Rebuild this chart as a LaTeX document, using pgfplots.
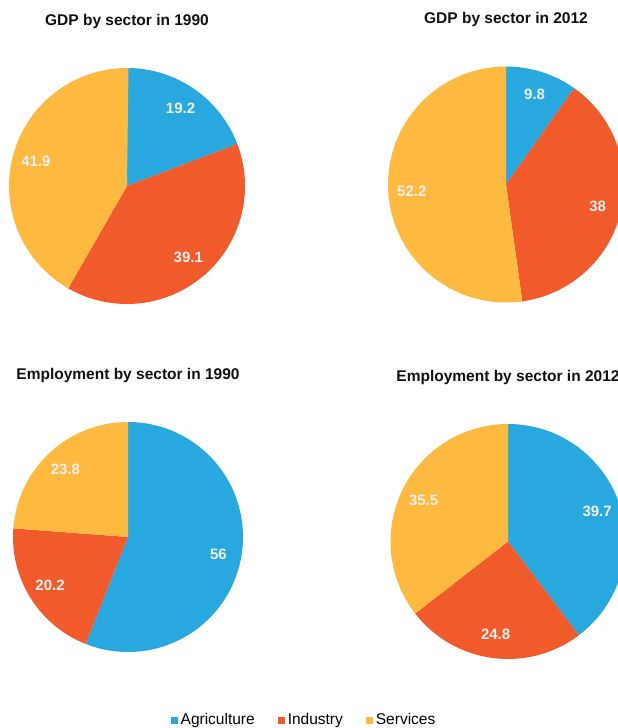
\documentclass[border=0pt]{standalone}
\usepackage{pgfplots}
\usepackage{pgfplotstable}
\pgfplotsset{compat=1.18}
\usepackage{fontspec}
\setmainfont{Liberation Sans}
\definecolor{agri}{HTML}{29A8E0}
\definecolor{indu}{HTML}{F15A2B}
\definecolor{serv}{HTML}{FDB940}
\definecolor{titlecol}{HTML}{111111}
\newcommand\titlefont{\fontsize{15.5}{18}\selectfont\bfseries}
\newcommand\labelfont{\fontsize{15}{18}\selectfont\bfseries}
\newcommand\legendfont{\fontsize{15.5}{18}\selectfont}

\pgfplotstableread{
sector value
Agriculture 19.2
Industry 39.1
Services 41.9
}\gdpA
\pgfplotstableread{
sector value
Agriculture 9.8
Industry 38
Services 52.2
}\gdpB
\pgfplotstableread{
sector value
Agriculture 56
Industry 20.2
Services 23.8
}\empA
\pgfplotstableread{
sector value
Agriculture 39.7
Industry 24.8
Services 35.5
}\empB

% #1 table, #2 canvas radius (pt)
\newcommand\pieslices[2]{%
  \gdef\startang{90}%
  \foreach \i/\col in {0/agri,1/indu,2/serv}{%
    \pgfplotstablegetelem{\i}{value}\of{#1}%
    \let\v\pgfplotsretval
    \pgfmathsetmacro\endang{\startang-3.6*\v}%
    \pgfmathsetmacro\cx{cos(\startang)}%
    \pgfmathsetmacro\cy{sin(\startang)}%
    \edef\temp{\noexpand\fill[\col] (axis cs:0,0) -- (axis cs:\cx,\cy) arc[start angle=\startang, end angle=\endang, radius=#2pt] -- cycle;}%
    \temp
    \xdef\startang{\endang}%
  }%
  \gdef\startang{90}%
  \foreach \i in {0,1,2}{%
    \pgfplotstablegetelem{\i}{value}\of{#1}%
    \let\v\pgfplotsretval
    \pgfmathsetmacro\endang{\startang-3.6*\v}%
    \pgfmathsetmacro\midang{(\startang+\endang)/2}%
    \pgfmathsetmacro\lx{0.8*cos(\midang)}%
    \pgfmathsetmacro\ly{0.8*sin(\midang)}%
    \edef\temp{\noexpand\node[text=white!94!black, font=\noexpand\labelfont, inner sep=0pt] at (axis cs:\lx,\ly) {\v};}%
    \temp
    \xdef\startang{\endang}%
  }%
}

\pgfplotsset{pieaxis/.style={hide axis, scale only axis, xmin=-1, xmax=1, ymin=-1, ymax=1,
  clip=false, anchor=center,
  title style={at={(0.5,1)}, anchor=base, yshift=36.5pt, font=\titlefont, text=titlecol, inner sep=0pt}}}

\begin{document}
\begin{tikzpicture}[x=1pt,y=1pt]
\useasboundingbox (0,0) rectangle (618,728);
\clip (0,0) rectangle (618,728);

\begin{axis}[pieaxis, width=236pt, height=236pt, at={(127pt,542pt)}, title={GDP by sector in 1990}]
\pieslices{\gdpA}{118}
\end{axis}

\begin{axis}[pieaxis, width=236pt, height=236pt, at={(506pt,543.5pt)}, title={GDP by sector in 2012}]
\pieslices{\gdpB}{118}
\end{axis}

\begin{axis}[pieaxis, width=230pt, height=230pt, at={(128pt,191pt)}, title={Employment by sector in 1990},
  legend columns=3,
  legend style={draw=none, fill=none, at={(1.2674,-0.2957)}, anchor=center, font=\legendfont,
    /tikz/every even column/.append style={column sep=21pt},
    nodes={inner sep=2.5pt}},
  legend image code/.code={\fill[#1] (0pt,-3.5pt) rectangle (7pt,3.5pt);}]
\pieslices{\empA}{115}
\addlegendimage{fill=agri, draw=none}
\addlegendentry{Agriculture}
\addlegendimage{fill=indu, draw=none}
\addlegendentry{Industry}
\addlegendimage{fill=serv, draw=none}
\addlegendentry{Services}
\end{axis}

\begin{axis}[pieaxis, width=235pt, height=235pt, at={(508pt,186.5pt)}, title={Employment by sector in 2012}]
\pieslices{\empB}{117.5}
\end{axis}
\end{tikzpicture}
\end{document}
